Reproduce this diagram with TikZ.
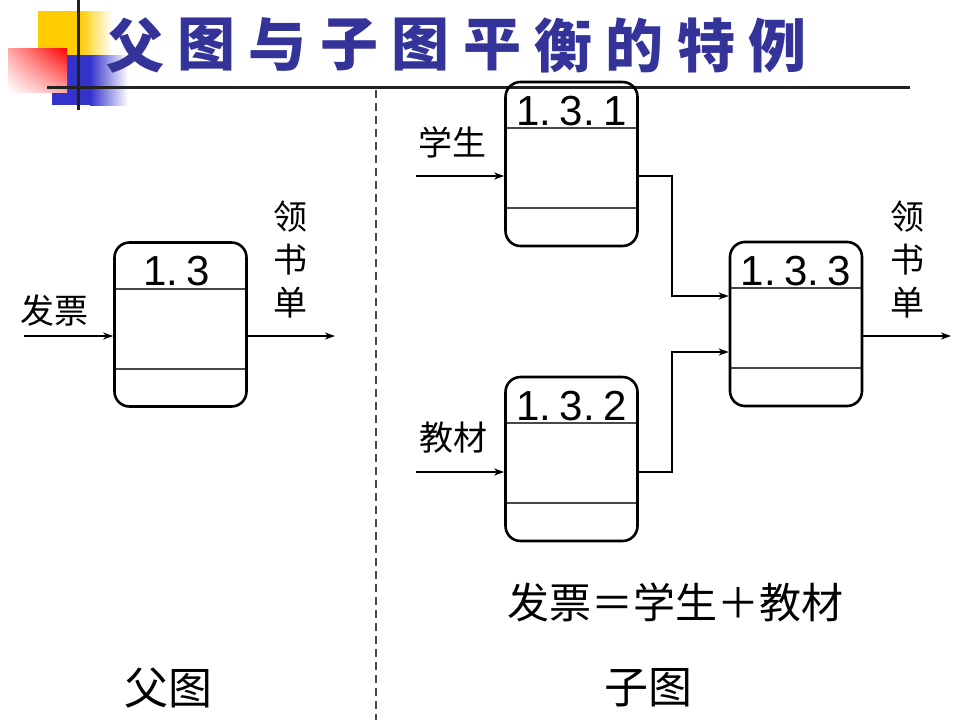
\documentclass[tikz,border=0pt]{standalone}
\usepackage{fontspec}
\setmainfont{Liberation Sans}
\newfontfamily\cjk{Noto Sans CJK SC}
\usetikzlibrary{arrows.meta,shadings}
\definecolor{titleblue}{RGB}{51,51,153}
\definecolor{decoyellow}{RGB}{255,204,0}
\definecolor{decoblue}{RGB}{51,51,204}
\definecolor{decored}{RGB}{255,0,0}
\definecolor{rulegray}{RGB}{34,34,34}
\definecolor{splitgray}{RGB}{72,72,76}
\newcommand{\dsp}{\hspace{0.2em}}

\begin{document}
\begin{tikzpicture}[
    x=1pt, y=-1pt,
    proc/.style={draw=black, line width=2.6pt, rounded corners=15pt,
      minimum width=132pt, minimum height=164pt, inner sep=0pt,
      path picture={
        \draw[splitgray, line width=2pt]
          ([yshift=-46pt]path picture bounding box.north west) -- ([yshift=-46pt]path picture bounding box.north east)
          ([yshift=-126pt]path picture bounding box.north west) -- ([yshift=-126pt]path picture bounding box.north east);}},
    num/.style={anchor=base, yshift=-44.5pt, font=\fontsize{42}{42}\selectfont},
    flow/.style={draw=black, line width=2pt, -{Stealth[length=10pt,width=7pt,inset=3pt]}},
    lbl/.style={font=\cjk\fontsize{34}{43}\selectfont, inner sep=0pt, align=center},
    big/.style={font=\cjk\fontsize{42}{42}\selectfont, inner sep=0pt},
    ttl/.style={font=\cjk\bfseries\fontsize{58}{58}\selectfont, text=titleblue, inner sep=0pt},
    ]
    \useasboundingbox (0,0) rectangle (960,720);
    % corner decoration
    \fill[decoyellow] (38,11) rectangle (80,55);
    \shade[left color=decoyellow, right color=white] (80,11) rectangle (112,55);
    \fill[decoblue] (52,55) rectangle (90,105);
    \shade[left color=decoblue, right color=white] (90,55) rectangle (128,105);
    \shade[upper right=decored, lower left=white, upper left=decored!35, lower right=decored!35] (8,48) rectangle (67,92);
    \draw[rulegray, line width=3pt] (78,0) -- (78,110);
    \draw[rulegray, line width=3pt] (47,87) -- (910,87);
    % title
    \foreach \ch [count=\i from 0] in {父,图,与,子,图,平,衡,的,特,例}
      \node[ttl] (t\i) at (135+71.4*\i,45) {\ch};
    % divider
    \draw[splitgray, line width=1.8pt, dash pattern=on 8pt off 5pt] (376,90) -- (376,720);
    % processes
    \node[proc, label={[num, xshift=-4pt]north:1.\dsp 3}] (p13) at (180.5,324.5) {};
    \node[proc, label={[num]north:1.\dsp 3.\dsp 1}] (p131) at (571.5,164) {};
    \node[proc, label={[num]north:1.\dsp 3.\dsp 2}] (p132) at (571.5,459) {};
    \node[proc, label={[num]north:1.\dsp 3.\dsp 3}] (p133) at (796,324) {};
    % flow ends
    \coordinate (fp) at (24,336);
    \coordinate (ls1) at (335,336);
    \coordinate (xs) at (416,176);
    \coordinate (jc) at (416,472);
    \coordinate (m1) at (672,296);
    \coordinate (m2) at (672,352);
    \coordinate (ls2) at (951,336);
    \draw[flow] (fp) -- (fp -| p13.west);
    \draw[flow] (ls1 -| p13.east) -- (ls1);
    \draw[flow] (xs) -- (xs -| p131.west);
    \draw[flow] (jc) -- (jc -| p132.west);
    \draw[flow] (xs -| p131.east) -| (m1) -- (m1 -| p133.west);
    \draw[flow] (jc -| p132.east) -| (m2) -- (m2 -| p133.west);
    \draw[flow] (ls2 -| p133.east) -- (ls2);
    % labels
    \node[lbl] (fpt) at (54,311) {发票};
    \node[lbl] (lst1) at (290,260) {领\\书\\单};
    \node[lbl] (xst) at (452,142) {学生};
    \node[lbl] (jct) at (453,438) {教材};
    \node[lbl] (lst2) at (907,260) {领\\书\\单};
    \node[big] (eq) at (675,602) {发票＝学生＋教材};
    \node[big, font=\cjk\fontsize{44}{44}\selectfont] (fu) at (168,688) {父图};
    \node[big, font=\cjk\fontsize{44}{44}\selectfont] (zi) at (648,688) {子图};
\end{tikzpicture}
\end{document}
